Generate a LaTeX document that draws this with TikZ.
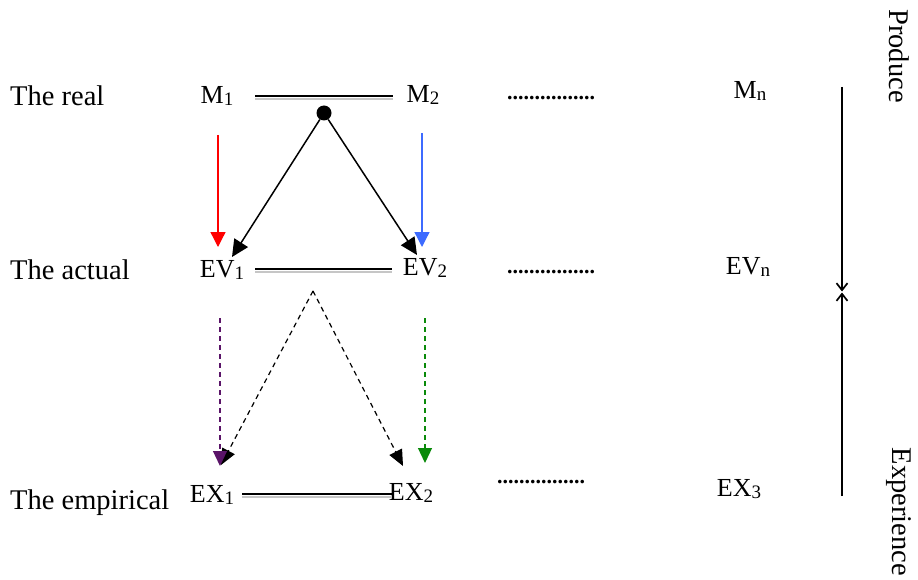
\documentclass[tikz,border=0pt]{standalone}
\usepackage{fontspec}
\setmainfont{Liberation Serif}
\usetikzlibrary{arrows.meta,calc}
\newcommand{\lsub}[1]{\raisebox{-2pt}{\fontsize{19}{19}\selectfont #1}}
\begin{document}
\begin{tikzpicture}[x=1pt,y=-1pt,
  lvl/.style={font=\fontsize{28.5}{30}\selectfont, anchor=west, inner sep=0},
  lab/.style={font=\fontsize{26}{28}\selectfont, inner sep=0},
  dts/.style={font=\fontsize{22}{24}\selectfont\bfseries, inner sep=0},
  side/.style={font=\fontsize{28.5}{30}\selectfont, inner sep=0, rotate=-90},
  bar/.style={line width=1.3pt},
  barshade/.style={line width=1.3pt, gray!45, transform canvas={yshift=-3pt}},
  tri/.style={line width=1.5pt, -{Triangle[length=17pt,width=16pt]}},
  dsh/.style={line width=1.2pt, dash pattern=on 5pt off 4pt, -{Triangle[length=16pt,width=14pt]}},
  col/.style={line width=1.3pt, -{Triangle[length=15pt,width=15pt]}},
  coldsh/.style={line width=1.2pt, dash pattern=on 5pt off 4pt, -{Triangle[length=15pt,width=14pt]}},
  barb/.style={line width=1.7pt, -{Straight Barb[length=7pt,width=11pt]}}
]
\useasboundingbox (0,0) rectangle (918,580);
\definecolor{myblue}{HTML}{3D6BFF}
\definecolor{mypurple}{HTML}{5A1468}
\definecolor{mygreen}{HTML}{0A8A0A}

% level labels
\node[lvl] (real) at (10,96) {The real};
\node[lvl] (actual) at (10,270) {The actual};
\node[lvl] (empir) at (10,503) {The empirical};

% nodes
\node[lab] (m1) at (217,96) {M\lsub{1}};
\node[lab] (m2) at (423,95) {M\lsub{2}};
\node[lab] (mn) at (750,91) {M\lsub{n}};
\node[lab] (ev1) at (222,270) {EV\lsub{1}};
\node[lab] (ev2) at (425,268) {EV\lsub{2}};
\node[lab] (evn) at (748,267) {EV\lsub{n}};
\node[lab] (ex1) at (212,495) {EX\lsub{1}};
\node[lab] (ex2) at (411,493) {EX\lsub{2}};
\node[lab] (ex3) at (739,489) {EX\lsub{3}};

% dots
\node[dts] (d1) at (551,98) {................};
\node[dts] (d2) at (551,272) {................};
\node[dts] (d3) at (541,482) {................};

% double bars
\foreach \y/\s/\e in {96/255/393, 269/255/392, 494/242/392}{
  \draw[bar] (\s,\y) -- (\e,\y);
  \draw[barshade] (\s,\y) -- (\e,\y);
}

% top dot and triangle
\node[circle, fill=black, inner sep=0, minimum size=15pt] (dot) at (324,113) {};
\draw[tri] (dot) -- ($(ev1)+(10,-13)$);
\draw[tri] (dot) -- ($(ev2)+(-8,-13)$);

% coloured solid arrows
\draw[col, red] ($(m1)+(1,39)$) -- ($(ev1)+(-4,-23)$);
\draw[col, myblue] ($(m2)+(-1,38)$) -- ($(ev2)+(-3,-21)$);

% dashed triangle
\coordinate (apex) at (313,291);
\draw[dsh] (apex) -- ($(ex1)+(9,-30)$);
\draw[dsh] (apex) -- ($(ex2)+(-8,-27)$);

% coloured dashed arrows
\draw[coldsh, mypurple] ($(ev1)+(-2,48)$) -- ($(ex1)+(8,-29)$);
\draw[coldsh, mygreen] ($(ev2)+(0,50)$) -- ($(ex2)+(14,-30)$);

% right side
\coordinate (ptop) at (842,87);
\coordinate (pmid) at (842,292);
\coordinate (pbot) at (842,496);
\draw[barb, shorten >=0.5pt] (ptop) -- (pmid);
\draw[barb, shorten >=0.5pt] (pbot) -- (pmid);
\node[side] (prod) at (899,56) {Produce};
\node[side] (expe) at (899,512) {Experience};
\end{tikzpicture}
\end{document}
